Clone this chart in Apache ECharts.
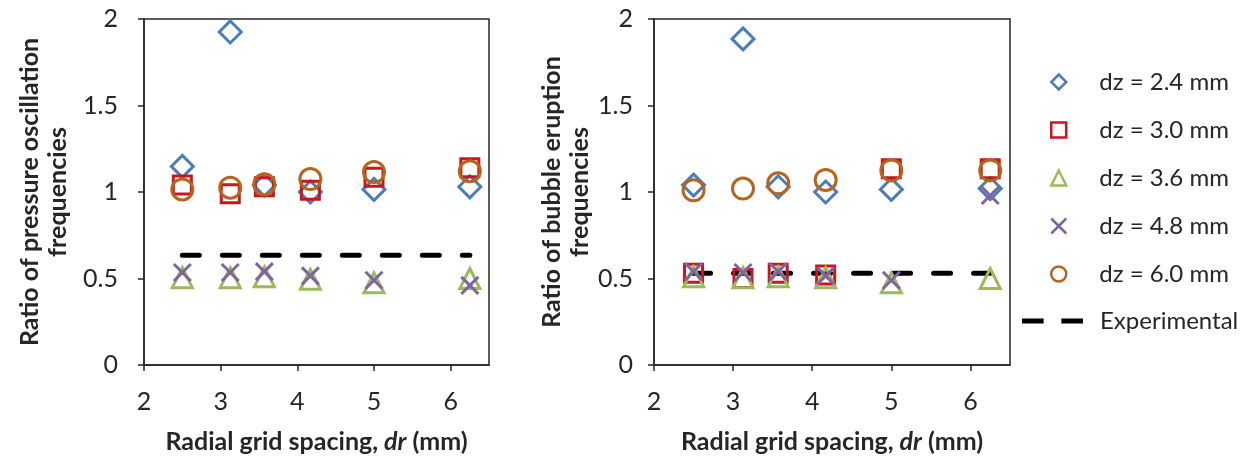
<!DOCTYPE html>
<html>
<head>
<meta charset="utf-8">
<script src="https://cdn.jsdelivr.net/npm/echarts@6/dist/echarts.min.js"></script>
<style>
  html, body { margin: 0; padding: 0; background: #fff; }
  #main { width: 1255px; height: 459px; }
</style>
</head>
<body>
<div id="main"></div>
<script>
// radial grid spacing dr (mm)
var drValues = [2.5, 3.125, 3.57, 4.17, 5.0, 6.25];
var seriesNames = ['dz = 2.4 mm', 'dz = 3.0 mm', 'dz = 3.6 mm', 'dz = 4.8 mm', 'dz = 6.0 mm'];

// left: pressure oscillation ratio
var pressDz24 = [1.148, 1.925, 1.04, 1.0, 1.015, 1.03];
var pressDz30 = [1.04, 0.99, 1.03, 1.01, 1.085, 1.14];
var pressDz36 = [0.505, 0.505, 0.51, 0.495, 0.475, 0.50];
var pressDz48 = [0.535, 0.535, 0.54, 0.515, 0.49, 0.46];
var pressDz60 = [1.015, 1.025, 1.045, 1.075, 1.115, 1.12];
var pressExp = 0.635;

// right: bubble eruption ratio
var bubbleDz24 = [1.04, 1.885, 1.03, 1.0, 1.015, 1.02];
var bubbleDz30 = [0.53, 0.50, 0.53, 0.52, 1.135, 1.135];
var bubbleDz36 = [0.51, 0.505, 0.51, 0.505, 0.475, 0.50];
var bubbleDz48 = [0.54, 0.535, 0.54, 0.515, 0.49, 0.98];
var bubbleDz60 = [1.01, 1.02, 1.05, 1.07, 1.125, 1.125];
var bubbleExp = 0.53;

var expRange = [2.5, 6.25];
var xTicks = [2, 3, 4, 5, 6];
var yTicks = [0, 0.5, 1, 1.5, 2];

var colors = ['#4A7EBB', '#C8161D', '#9BBB59', '#8064A2', '#B5651D'];
var symbols = ['diamond', 'rect', 'triangle', 'path://M0,0L10,10M10,0L0,10', 'circle'];
var sizes = [22, 18, 20, 17, 21];

var font = 'Lato, "Open Sans", sans-serif';
var axisColor = '#262626';

var myChart = echarts.init(document.getElementById('main'));

function pairs(vals) {
  return drValues.map(function (x, i) { return [x, vals[i]]; });
}

function xAxisOf(idx) {
  return {
    gridIndex: idx, type: 'value', min: 2, max: 6.5, interval: 1,
    axisLine: { show: true, onZero: false, lineStyle: { color: axisColor, width: 1.5 } },
    axisTick: { show: true, length: 6, lineStyle: { color: axisColor, width: 1.5 } },
    axisLabel: {
      fontSize: 25, color: axisColor, fontFamily: font, margin: 24,
      formatter: function (v) { return xTicks.indexOf(v) >= 0 ? String(v) : ''; },
      showMaxLabel: false
    },
    splitLine: { show: false },
    name: '{b|Radial grid spacing, }{i|dr}{b| (mm)}',
    nameLocation: 'middle', nameGap: 64,
    nameTextStyle: {
      rich: {
        b: { fontSize: 25, fontWeight: 'bold', color: axisColor, fontFamily: font },
        i: { fontSize: 25, fontWeight: 'bold', fontStyle: 'italic', color: axisColor, fontFamily: font }
      }
    }
  };
}

function yAxisOf(idx, title, gap, labelMargin) {
  return {
    gridIndex: idx, type: 'value', min: 0, max: 2, interval: 0.5,
    axisLine: { show: true, lineStyle: { color: axisColor, width: 1.5 } },
    axisTick: { show: true, length: 6, lineStyle: { color: axisColor, width: 1.5 } },
    axisLabel: {
      fontSize: 25, color: axisColor, fontFamily: font, margin: labelMargin,
      formatter: function (v) { return yTicks.indexOf(v) >= 0 ? String(v) : ''; }
    },
    splitLine: { show: false },
    name: title, nameLocation: 'middle', nameGap: gap, nameRotate: 90,
    nameTextStyle: { fontSize: 25, fontWeight: 'bold', color: axisColor, fontFamily: font, lineHeight: 28 }
  };
}

function scatterSeries(k, vals, gi) {
  return {
    name: seriesNames[k], type: 'scatter', xAxisIndex: gi, yAxisIndex: gi,
    symbol: symbols[k], symbolSize: sizes[k],
    itemStyle: { color: 'rgba(0,0,0,0)', borderColor: colors[k], borderWidth: 3, opacity: 1 },
    emphasis: { disabled: true },
    data: pairs(vals)
  };
}

function expSeries(val, gi) {
  return {
    name: 'Experimental', type: 'line', xAxisIndex: gi, yAxisIndex: gi,
    symbol: 'none', z: 1,
    lineStyle: { color: '#000', width: 5, type: [17, 23], cap: 'round' },
    data: expRange.map(function (x) { return [x, val]; })
  };
}

var leftSets = [pressDz24, pressDz30, pressDz36, pressDz48, pressDz60];
var rightSets = [bubbleDz24, bubbleDz30, bubbleDz36, bubbleDz48, bubbleDz60];

var series = [expSeries(pressExp, 0), expSeries(bubbleExp, 1)];
leftSets.forEach(function (v, k) { series.push(scatterSeries(k, v, 0)); });
rightSets.forEach(function (v, k) { series.push(scatterSeries(k, v, 1)); });

var option = {
  backgroundColor: '#fff',
  animation: false,
  grid: [
    { left: 144, top: 19, width: 345, height: 346, show: true, borderColor: axisColor, borderWidth: 1.5, backgroundColor: 'transparent' },
    { left: 654, top: 19, width: 356, height: 346, show: true, borderColor: axisColor, borderWidth: 1.5, backgroundColor: 'transparent' }
  ],
  xAxis: [xAxisOf(0), xAxisOf(1)],
  yAxis: [
    yAxisOf(0, 'Ratio of pressure oscillation\nfrequencies', 72, 26),
    yAxisOf(1, 'Ratio of bubble eruption\nfrequencies', 59, 21)
  ],
  legend: [
    {
      orient: 'vertical', left: 1050, top: 69, padding: 0,
      itemWidth: 15, itemHeight: 15, itemGap: 22,
      selectedMode: false,
      textStyle: { fontSize: 24, lineHeight: 26, color: axisColor, fontFamily: font, padding: [0, 0, 0, 28] },
      data: seriesNames.map(function (n, k) {
        return { name: n, icon: symbols[k], itemStyle: { color: 'rgba(0,0,0,0)', borderColor: colors[k], borderWidth: 2.5 } };
      })
    },
    {
      orient: 'vertical', left: 1022, top: 308, padding: 0,
      itemWidth: 61, itemHeight: 5,
      selectedMode: false,
      textStyle: { fontSize: 24, lineHeight: 26, color: axisColor, fontFamily: font, padding: [0, 0, 0, 12] },
      data: [{
        name: 'Experimental',
        icon: 'path://M0,0H22V5H0Z M40,0H62V5H40Z',
        itemStyle: { color: '#000', borderWidth: 0 }
      }]
    }
  ],
  series: series
};

myChart.setOption(option);
</script>
</body>
</html>
